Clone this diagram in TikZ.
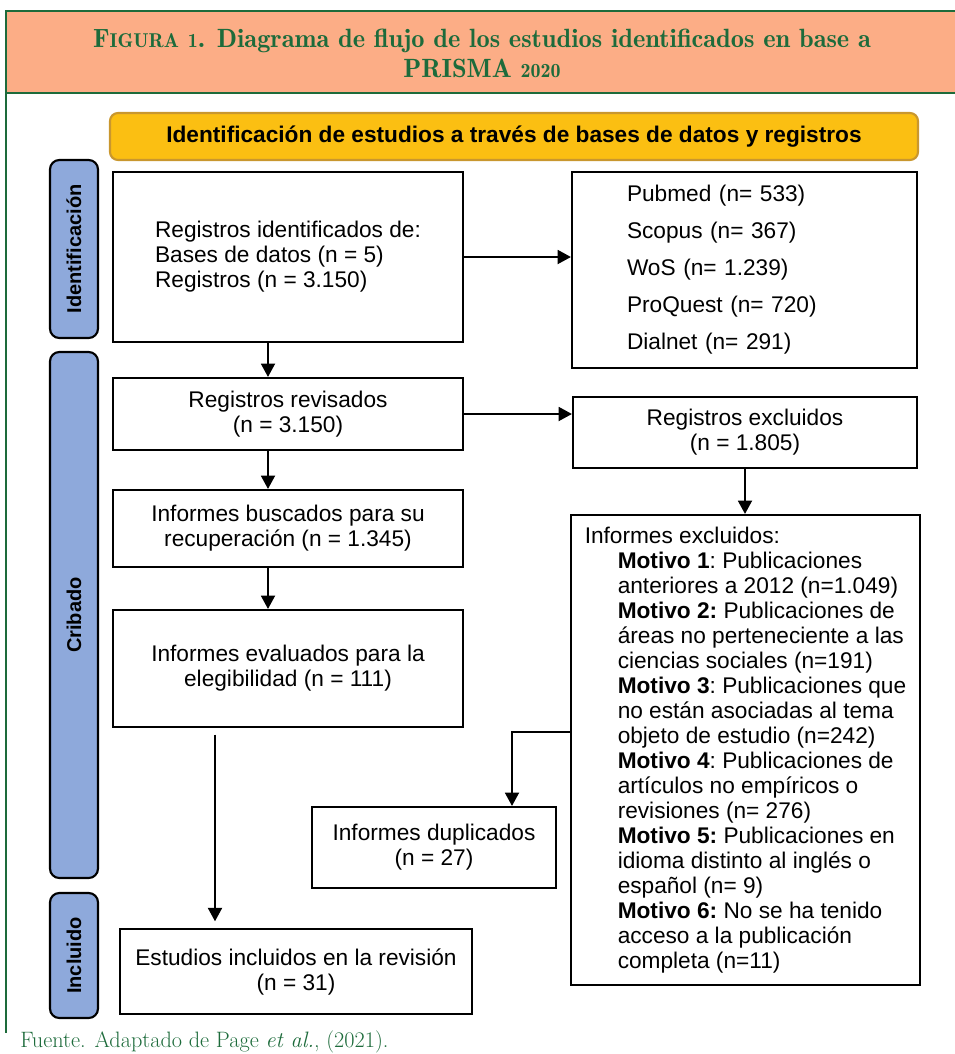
\documentclass[tikz,border=0pt]{standalone}
\usepackage{fontspec}
\usepackage{tikz}
\usetikzlibrary{arrows.meta}

\newfontfamily\cajafont{Liberation Sans}
\newfontfamily\titfont{Latin Modern Roman Demi}

\definecolor{salmon}{HTML}{FCAD86}
\definecolor{verdetit}{HTML}{1D6B3B}
\definecolor{amarillo}{HTML}{FBBF12}
\definecolor{ambar}{HTML}{C9972E}
\definecolor{azulet}{HTML}{8EA9DB}

\newcommand{\motind}{\hspace*{24.75pt}}

\tikzset{
  caja/.style={draw, line width=1.6pt, fill=white, inner sep=2pt, align=center,
    font=\cajafont\frenchspacing\fontsize{17}{18.75}\selectfont},
  etiqueta/.style={draw, line width=1.6pt, fill=azulet, rounded corners=7pt, rotate=90,
    minimum height=36pt, inner sep=0pt, font=\cajafont\bfseries\fontsize{15}{18}\selectfont},
  banda/.style={draw=ambar, line width=1.6pt, fill=amarillo, rounded corners=6pt,
    minimum width=606pt, minimum height=35.25pt, inner sep=0pt,
    font=\cajafont\bfseries\fontsize{17}{20}\selectfont},
  titulo/.style={text=verdetit, align=center, font=\titfont\fontsize{19.8}{22.5}\selectfont},
  pie/.style={text=verdetit, inner sep=0pt, font=\fontsize{16.7}{18}\selectfont},
  flecha/.style={line width=1.4pt, -{Triangle[length=10pt,width=10.5pt]}},
}

\begin{document}
\begin{tikzpicture}[x=0.75pt,y=-0.75pt]
\useasboundingbox (0,0) rectangle (955,1054);

% cabecera
\fill[salmon] (6,11) rectangle (955,93);
\draw[verdetit, line width=1pt] (955,11) -- (6,11) -- (6,1033);
\draw[verdetit, line width=1pt] (6,93) -- (955,93);
\node[titulo] (tit) at (482,53) {F{\fontsize{15}{22.5}\selectfont IGURA} {\fontsize{15}{22.5}\selectfont 1}. Diagrama de flujo de los estudios identificados en base a\\PRISMA {\fontsize{15}{22.5}\selectfont 2020}};

\node[banda] (banda) at (514,136.5) {Identificación de estudios a través de bases de datos y registros};

% fases
\node[etiqueta, minimum width=133.5pt] (fase1) at (74,249) {Identificación};
\node[etiqueta, minimum width=394.5pt] (fase2) at (74,615) {Cribado};
\node[etiqueta, minimum width=93.75pt] (fase3) at (74,955.5) {Incluido};

% cajas
\node[caja, minimum width=262.5pt, minimum height=127.5pt, align=left] (regid) at (288,257)
  {Registros identificados de:\\Bases de datos (n = 5)\\Registros (n = 3.150)};
\node[caja, text width=176.25pt, inner xsep=41.25pt, minimum height=147pt, align=left,
  font=\cajafont\fontsize{17}{27.75}\selectfont] (fuentes) at (744.5,270)
  {Pubmed (n= 533)\\Scopus (n= 367)\\WoS (n= 1.239)\\ProQuest (n= 720)\\Dialnet (n= 291)};
\node[caja, minimum width=262.5pt, minimum height=54pt] (revis) at (288,414)
  {Registros revisados\\(n = 3.150)};
\node[caja, minimum width=258pt, minimum height=53.25pt] (excl) at (745,432.5)
  {Registros excluidos\\(n = 1.805)};
\node[caja, minimum width=262.5pt, minimum height=57.75pt] (busc) at (288,528.5)
  {Informes buscados para su\\recuperación (n = 1.345)};
\node[caja, minimum width=261.75pt, minimum height=352.5pt, align=left] (infexcl) at (745.5,750)
  {Informes excluidos:\\
   \motind\textbf{Motivo 1}: Publicaciones\\
   \motind anteriores a 2012 (n=1.049)\\
   \motind\textbf{Motivo 2:} Publicaciones de\\
   \motind áreas no perteneciente a las\\
   \motind ciencias sociales (n=191)\\
   \motind\textbf{Motivo 3}: Publicaciones que\\
   \motind no están asociadas al tema\\
   \motind objeto de estudio (n=242)\\
   \motind\textbf{Motivo 4}: Publicaciones de\\
   \motind artículos no empíricos o\\
   \motind revisiones (n= 276)\\
   \motind\textbf{Motivo 5:} Publicaciones en\\
   \motind idioma distinto al inglés o\\
   \motind español (n= 9)\\
   \motind\textbf{Motivo 6:} No se ha tenido\\
   \motind acceso a la publicación\\
   \motind completa (n=11)};
\node[caja, minimum width=262.5pt, minimum height=87.75pt] (eval) at (288,668.5)
  {Informes evaluados para la\\elegibilidad (n = 111)};
\node[caja, minimum width=183pt, minimum height=60.75pt] (dup) at (434,847.5)
  {Informes duplicados\\(n = 27)};
\node[caja, minimum width=264pt, minimum height=63.75pt] (incl) at (296,971.5)
  {Estudios incluidos en la revisión\\(n = 31)};

\node[pie, anchor=base west] (fuente) at (20,1047) {Fuente. Adaptado de Page \textit{et al.}, (2021).};

% conectores
\coordinate (colA) at (268,0);
\coordinate (colB) at (215,0);
\coordinate (codo) at (512,732);

\draw[flecha] (regid.east) -- (regid.east -| fuentes.west);
\draw[flecha] (regid.south -| colA) -- (revis.north -| colA);
\draw[flecha] (revis.east) -- (revis.east -| excl.west);
\draw[flecha] (revis.south -| colA) -- (busc.north -| colA);
\draw[flecha] (excl.south) -- (excl.south |- infexcl.north);
\draw[flecha] (busc.south -| colA) -- (eval.north -| colA);
\draw[flecha, shorten <=5pt, shorten >=5pt] (eval.south -| colB) -- (incl.north -| colB);
\draw[flecha] (codo -| infexcl.west) -- (codo) -- (codo |- dup.north);
\end{tikzpicture}
\end{document}
